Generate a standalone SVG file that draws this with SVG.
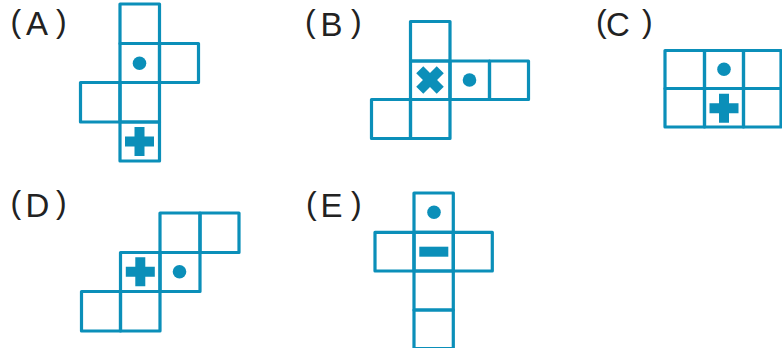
<svg xmlns="http://www.w3.org/2000/svg" xmlns:xlink="http://www.w3.org/1999/xlink" width="782" height="348" viewBox="0 0 782 348">
<style>
.cell{fill:none;stroke:#0B8FB9;stroke-width:3.2;stroke-linejoin:round}
.mk{fill:#0B8FB9}
.lbl{font-family:"Liberation Sans",Arial,sans-serif;font-size:32px;fill:#222}
.ltr{font-size:33px}
</style>
<defs>
<path id="plus" d="M-5,-14.5h10v9.5h9.5v10h-9.5v9.5h-10v-9.5h-9.5v-10h9.5z"/>
</defs>
<rect width="782" height="348" fill="#fff"/>
<g id="optA">
<text class="lbl" x="10.5" y="31.8">(<tspan class="ltr" x="26" y="35">A</tspan><tspan x="56" y="31.8">)</tspan></text>
<rect class="cell" x="120" y="4" width="39.5" height="39.5"/>
<rect class="cell" x="120" y="43.5" width="39.5" height="39"/>
<rect class="cell" x="159.5" y="43.5" width="39" height="39"/>
<rect class="cell" x="80.5" y="82.5" width="39.5" height="39.5"/>
<rect class="cell" x="120" y="82.5" width="39.5" height="39.5"/>
<rect class="cell" x="120" y="122" width="39.5" height="39"/>
<circle class="mk" cx="139.5" cy="63.3" r="6.8"/>
<use xlink:href="#plus" class="mk" transform="translate(139.5 141.5)"/>
</g>
<g id="optB">
<text class="lbl" x="305" y="32">(<tspan class="ltr" x="320.5" y="35.5">B</tspan><tspan x="351" y="32">)</tspan></text>
<rect class="cell" x="410.5" y="21.5" width="39.5" height="39.5"/>
<rect class="cell" x="410.5" y="61" width="39.5" height="38.5"/>
<rect class="cell" x="450" y="61" width="39.5" height="38.5"/>
<rect class="cell" x="489.5" y="61" width="39" height="38.5"/>
<rect class="cell" x="371.5" y="99.5" width="39" height="39"/>
<rect class="cell" x="410.5" y="99.5" width="39.5" height="39"/>
<use xlink:href="#plus" class="mk" transform="translate(430 80) rotate(45)"/>
<circle class="mk" cx="469.5" cy="80" r="6.8"/>
</g>
<g id="optC">
<text class="lbl" x="596" y="32">(<tspan class="ltr" x="606" y="35.5">C</tspan><tspan x="642" y="32">)</tspan></text>
<rect class="cell" x="665" y="50.5" width="39.5" height="38"/>
<rect class="cell" x="704.5" y="50.5" width="39" height="38"/>
<rect class="cell" x="743.5" y="50.5" width="37.5" height="38"/>
<rect class="cell" x="665" y="88.5" width="39.5" height="38.5"/>
<rect class="cell" x="704.5" y="88.5" width="39" height="38.5"/>
<rect class="cell" x="743.5" y="88.5" width="37.5" height="38.5"/>
<circle class="mk" cx="724" cy="69.3" r="6.8"/>
<use xlink:href="#plus" class="mk" transform="translate(724 108.3)"/>
</g>
<g id="optD">
<text class="lbl" x="10.5" y="212.8">(<tspan class="ltr" x="25.5" y="216.5">D</tspan><tspan x="56" y="212.8">)</tspan></text>
<rect class="cell" x="160" y="213" width="40" height="39.5"/>
<rect class="cell" x="200" y="213" width="39" height="39.5"/>
<rect class="cell" x="120.5" y="252.5" width="39.5" height="39"/>
<rect class="cell" x="160" y="252.5" width="40" height="39"/>
<rect class="cell" x="81.5" y="291.5" width="39" height="39.5"/>
<rect class="cell" x="120.5" y="291.5" width="39.5" height="39.5"/>
<use xlink:href="#plus" class="mk" transform="translate(140.3 271.7)"/>
<circle class="mk" cx="179.5" cy="271.7" r="6.8"/>
</g>
<g id="optE">
<text class="lbl" x="306" y="213.5">(<tspan class="ltr" x="320.5" y="217">E</tspan><tspan x="351" y="213.5">)</tspan></text>
<rect class="cell" x="414" y="193" width="39.3" height="39.3"/>
<rect class="cell" x="375" y="232.3" width="39" height="38.7"/>
<rect class="cell" x="414" y="232.3" width="39.3" height="38.7"/>
<rect class="cell" x="453.3" y="232.3" width="39" height="38.7"/>
<rect class="cell" x="414" y="271" width="39.3" height="39"/>
<rect class="cell" x="414" y="310" width="39.3" height="38.5"/>
<circle class="mk" cx="434" cy="212.3" r="6.8"/>
<rect class="mk" x="419.3" y="246.7" width="29" height="10"/>
</g>
</svg>
